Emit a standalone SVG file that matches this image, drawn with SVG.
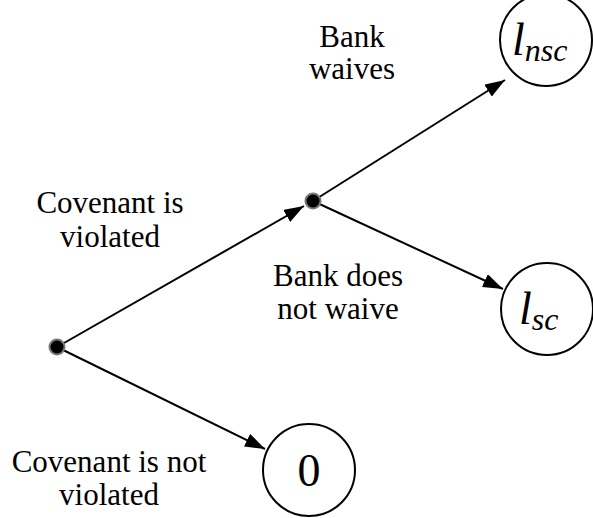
<svg xmlns="http://www.w3.org/2000/svg" width="593" height="518" viewBox="0 0 593 518">
<defs>
<style>
text{font-family:"Liberation Serif","Times New Roman",serif;fill:#000}
.lbl{font-size:31px;text-anchor:middle}
.math{font-style:italic}
.edge{stroke:#000;stroke-width:2;fill:none}
.circ{fill:#fff;stroke:#000;stroke-width:2}
.dot{fill:#000;stroke:#777;stroke-width:2}
</style>
<marker id="arr" viewBox="0 0 20 14" refX="20" refY="7" markerWidth="20" markerHeight="14" markerUnits="userSpaceOnUse" orient="auto">
<path d="M0,0 L20,7 L0,14 z" fill="#000"/>
</marker>
</defs>
<rect width="593" height="518" fill="#fff"/>
<g id="connectors">
<line class="edge" x1="57" y1="347" x2="304" y2="206" marker-end="url(#arr)"/>
<line class="edge" x1="313" y1="201" x2="505" y2="80" marker-end="url(#arr)"/>
<line class="edge" x1="313" y1="201" x2="503" y2="289" marker-end="url(#arr)"/>
<line class="edge" x1="57" y1="347" x2="265" y2="449" marker-end="url(#arr)"/>
</g>
<g id="start"><circle class="dot" cx="57" cy="347" r="7.5"/></g>
<g id="bank"><circle class="dot" cx="313" cy="201" r="7.5"/></g>
<g id="lnsc"><circle class="circ" cx="546" cy="40" r="46"/>
<text class="math" x="512" y="55" font-size="46">l<tspan font-size="32" dy="6">nsc</tspan></text></g>
<g id="lsc"><circle class="circ" cx="547" cy="309" r="46"/>
<text class="math" x="519" y="324" font-size="46">l<tspan font-size="32" dy="6">sc</tspan></text></g>
<g id="zero"><circle class="circ" cx="309" cy="470" r="46"/>
<text x="309" y="486" font-size="46" text-anchor="middle">0</text></g>
<g id="labels">
<text class="lbl" x="110" y="213">Covenant is</text>
<text class="lbl" x="110" y="247">violated</text>
<text class="lbl" x="352" y="47">Bank</text>
<text class="lbl" x="352" y="79">waives</text>
<text class="lbl" x="338" y="286">Bank does</text>
<text class="lbl" x="338" y="319">not waive</text>
<text class="lbl" x="109" y="472">Covenant is not</text>
<text class="lbl" x="109" y="505">violated</text>
</g>
</svg>
